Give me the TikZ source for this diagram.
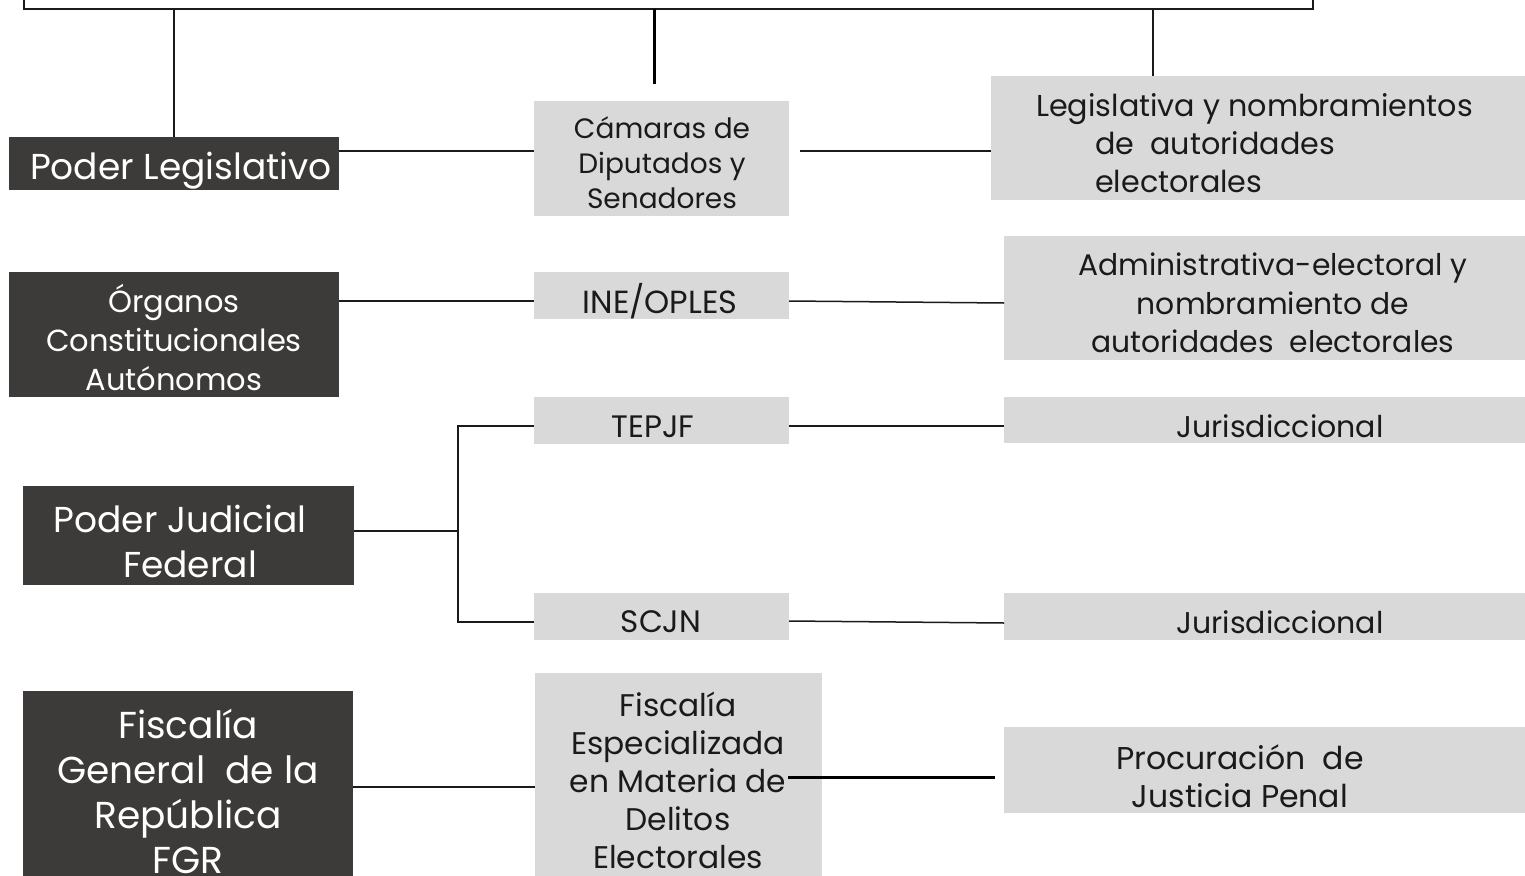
\documentclass[tikz,border=0pt]{standalone}
\usepackage{fontspec}
\setmainfont{Poppins}
\definecolor{boxdark}{HTML}{3C3B39}
\definecolor{boxgray}{HTML}{D9D9D9}
\definecolor{inkgray}{HTML}{1A1A1A}
\begin{document}
\begin{tikzpicture}
    [x=1pt, y=-1pt,
    dbox/.style={fill=boxdark, anchor=north west, inner sep=0pt, outer sep=0pt},
    gbox/.style={fill=boxgray, anchor=north west, inner sep=0pt, outer sep=0pt},
    dtext/.style={text=white, align=center, inner sep=0pt},
    gtext/.style={text=inkgray, align=center, inner sep=0pt},
    conn/.style={draw=inkgray, line width=1.5pt},
    boldconn/.style={draw=black, line width=3pt}]
  \useasboundingbox (0,0) rectangle (1525,875);
  \clip (0,0) rectangle (1525,875);

  % frame running off the top
  \node [draw=inkgray, line width=2pt, anchor=south west, minimum width=1289pt,
    minimum height=60pt, inner sep=0pt, outer sep=0pt] (top) at (24,9) {};

  % left column
  \node [dbox, minimum width=330pt, minimum height=53pt] (leg) at (9,137) {};
  \node [dtext, font=\fontsize{36}{45}\selectfont] (legt) at (181,171) {Poder Legislativo};
  \node [dbox, minimum width=330pt, minimum height=125pt] (org) at (9,272) {};
  \node [dtext, font=\fontsize{30.5}{39}\selectfont] (orgt) at (174,337)
    {Órganos\\Constitucionales\\Autónomos};
  \node [dbox, minimum width=331pt, minimum height=99pt] (jud) at (23,486) {};
  \node [dtext, font=\fontsize{36}{45}\selectfont] (judt) at (180,541)
    {Poder Judicial\\\hspace*{20pt}Federal};
  \node [dbox, minimum width=330pt, minimum height=200pt] (fgr) at (23,691) {};
  \node [dtext, font=\fontsize{37.5}{45}\selectfont] (fgrt) at (188,791)
    {Fiscalía\\General\ \ de la\\República\\FGR};

  % middle column
  \node [gbox, minimum width=255pt, minimum height=115pt] (cam) at (534,101) {};
  \node [gtext, font=\fontsize{28}{35}\selectfont] (camt) at (662,163)
    {Cámaras de\\Diputados y\\Senadores};
  \node [gbox, minimum width=255pt, minimum height=47pt] (ine) at (534,272) {};
  \node [gtext, font=\fontsize{32}{38}\selectfont] (inet) at (660,301) {INE/OPLES};
  \node [gbox, minimum width=255pt, minimum height=47pt] (tep) at (534,397) {};
  \node [gtext, font=\fontsize{31}{38}\selectfont] (tept) at (653,427) {TEPJF};
  \node [gbox, minimum width=255pt, minimum height=47pt] (scj) at (534,593) {};
  \node [gtext, font=\fontsize{31}{38}\selectfont] (scjt) at (661,622) {SCJN};
  \node [gbox, minimum width=287pt, minimum height=210pt] (fed) at (535,673) {};
  \node [gtext, font=\fontsize{31.3}{38}\selectfont] (fedt) at (678,780)
    {Fiscalía\\Especializada\\en Materia de\\Delitos\\Electorales};

  % right column
  \node [gbox, minimum width=545pt, minimum height=124pt] (legf) at (991,76) {};
  \node [gtext, align=left, anchor=west, font=\fontsize{30.2}{38}\selectfont] (legft) at (1036,143)
    {Legislativa y nombramientos\\\hspace*{59pt}de\ \ autoridades\\\hspace*{59pt}electorales};
  \node [gbox, minimum width=530pt, minimum height=124pt] (adm) at (1004,236) {};
  \node [gtext, font=\fontsize{29.8}{38.5}\selectfont] (admt) at (1273,303)
    {Administrativa-electoral y\\nombramiento de\\autoridades\ \ electorales};
  \node [gbox, minimum width=530pt, minimum height=46pt] (jur1) at (1004,397) {};
  \node [gtext, font=\fontsize{30}{38}\selectfont] (jur1t) at (1280,426) {Jurisdiccional};
  \node [gbox, minimum width=530pt, minimum height=47pt] (jur2) at (1004,593) {};
  \node [gtext, font=\fontsize{30}{38}\selectfont] (jur2t) at (1280,622) {Jurisdiccional};
  \node [gbox, minimum width=530pt, minimum height=86pt] (pro) at (1004,727) {};
  \node [gtext, font=\fontsize{31.5}{38}\selectfont] (prot) at (1240,776)
    {Procuración\ \ de\\Justicia Penal};

  % drops from the frame
  \coordinate (camtip) at ([xshift=-7.5pt,yshift=17pt]cam.north);
  \draw [conn] (top.south -| leg.north) -- (leg.north);
  \draw [boldconn] (top.south -| camtip) -- (camtip);
  \draw [conn] ([xshift=-110.5pt]legf.north |- top.south) -- ([xshift=-110.5pt]legf.north);

  % links between columns
  \draw [conn] ([yshift=12.5pt]leg.east) -- ([yshift=12.5pt]leg.east -| cam.west);
  \draw [conn] ([xshift=11pt,yshift=-13pt]legf.west -| cam.east) -- ([yshift=-13pt]legf.west);
  \draw [conn] ([yshift=-5.5pt]ine.west -| org.east) -- ([yshift=-5.5pt]ine.west);
  \draw [conn] ([yshift=-5.5pt]ine.east) -- ([yshift=-5pt]adm.west);
  \coordinate (fork) at (458,531);
  \draw [conn] ([yshift=4.5pt]jud.east) -- (fork);
  \draw [conn] ([yshift=-5.5pt]tep.west) -| (fork) |- ([yshift=-5.5pt]scj.west);
  \draw [conn] ([yshift=-5.5pt]tep.east) -- ([yshift=-6pt]jur1.west);
  \draw [conn] ([yshift=-4.5pt]scj.east) -- ([yshift=-6.5pt]jur2.west);
  \draw [conn] ([yshift=4pt]fgr.east) -- ([yshift=4pt]fgr.east -| fed.west);
  \draw [boldconn] ([xshift=-34pt,yshift=1pt]fed.east) -- ([xshift=-9pt,yshift=-7pt]pro.west);
\end{tikzpicture}
\end{document}
